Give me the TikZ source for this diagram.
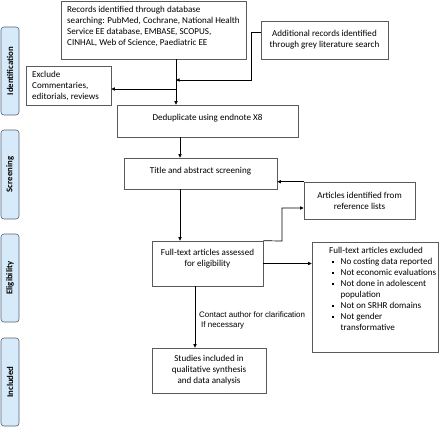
\documentclass[tikz,border=0pt]{standalone}
\usepackage{fontspec}
\setmainfont{Carlito}
\newfontfamily\arialf{Liberation Sans}
\usetikzlibrary{arrows.meta,calc}
\definecolor{sidefill}{RGB}{214,234,250}
\definecolor{sidedraw}{RGB}{85,100,118}
\definecolor{boxdraw}{RGB}{90,90,90}
\begin{document}
\begin{tikzpicture}[x=1bp,y=-1bp,
  box/.style={draw=boxdraw,line width=0.6pt,rectangle,inner sep=0pt,font=\fontsize{9.1}{11}\selectfont},
  side/.style={draw=sidedraw,fill=sidefill,line width=0.6pt,rounded corners=3pt,inner sep=0pt,
     minimum height=18bp,font=\bfseries\fontsize{8.8}{10}\selectfont,rotate=90},
  txt/.style={inner sep=0pt,font=\fontsize{9.1}{11}\selectfont},
  arr/.style={line width=0.7pt,-{Triangle[length=3.6pt,width=3.2pt]}},
  ln/.style={line width=0.7pt}]
\useasboundingbox (0,0) rectangle (440,427);
% side labels
\node[side,minimum width=88bp] (sid) at (10,71) {Identification};
\node[side,minimum width=89bp] (ssc) at (10,174.5) {Screening};
\node[side,minimum width=88bp] (sel) at (10,278) {Eligibility};
\node[side,minimum width=88bp] (sin) at (10,382) {Included};
% boxes
\node[box,minimum width=185bp,minimum height=58bp] (rec) at (153.5,30) {};
\node[txt,align=left,anchor=north west] (rect) at (67,6.5) {Records identified through database\\searching: PubMed, Cochrane, National Health\\Service EE database, EMBASE, SCOPUS,\\CINHAL, Web of Science, Paediatric EE};
\node[box,minimum width=127bp,minimum height=38bp,align=center] (add) at (324.5,40) {Additional records identified\\through grey literature search};
\node[box,minimum width=85bp,minimum height=39bp] (exc) at (68.5,85.5) {};
\node[txt,align=left,anchor=west] (exct) at (32,86) {Exclude\\Commentaries,\\editorials, reviews};
\node[box,minimum width=181bp,minimum height=32bp] (ded) at (207.5,121) {};
\node[txt] (dedt) at (207.5,118.5) {Deduplicate using endnote X8};
\node[box,minimum width=153bp,minimum height=31bp] (tit) at (200.5,173.5) {};
\node[txt] (titt) at (200.5,171) {Title and abstract screening};
\node[box,minimum width=111bp,minimum height=37bp,align=center] (art) at (359.5,200.5) {Articles identified from\\reference lists};
\node[box,minimum width=111bp,minimum height=45bp] (ful) at (207.5,263.5) {};
\node[txt,align=center] (fult) at (207.5,259) {Full-text articles assessed\\for eligibility};
\node[box,minimum width=126bp,minimum height=110bp] (exf) at (375,297) {};
\newcommand{\bul}{\makebox[8.5pt][l]{\rule[1.6pt]{2.1pt}{2.1pt}}}
\newcommand{\cnt}{\hspace{8.5pt}}
\node[txt,align=left,anchor=north west] (exft) at (329,247) {Full-text articles excluded\\
\hspace{3pt}\bul No costing data reported\\
\hspace{3pt}\bul Not economic evaluations\\
\hspace{3pt}\bul Not done in adolescent\\
\hspace{3pt}\cnt population\\
\hspace{3pt}\bul Not on SRHR domains\\
\hspace{3pt}\bul Not gender\\
\hspace{3pt}\cnt transformative};
\node[box,minimum width=114bp,minimum height=45bp,align=center] (stu) at (209,370.5) {Studies included in\\qualitative synthesis\\and data analysis};
\node[inner sep=0pt,anchor=west,align=left,font=\arialf\fontsize{8}{10}\selectfont] (con) at (199,320) {Contact author for clarification\\\hspace{2pt}If necessary};
% coordinates
\coordinate (xa) at (176,0);
\coordinate (xb) at (180,0);
\coordinate (xc) at (195,0);
\coordinate (j1) at (176,89);
\coordinate (j2) at (176,80);
\coordinate (a1) at (251,32);
\coordinate (a2) at (251,80);
\coordinate (f1) at (282,241);
\coordinate (f2) at (282,208);
% connectors
\draw[arr] (rec.south -| xa) -- (ded.north -| xa);
\draw[arr] (j1) -- (exc.east |- j1);
\draw[arr] (add.west |- a1) -- (a1) -- (a2) -- (j2);
\draw[arr] (ded.south -| xb) -- (tit.north -| xb);
\draw[arr] (tit.south -| xb) -- (ful.north -| xb);
\draw[arr] (art.north west) -- (tit.east |- art.north west);
\draw[arr] (ful.north east) -- (f1) -- (f2) -- (art.west |- f2);
\draw[arr] (ful.east) -- (exf.west |- ful.east);
\draw[arr] (ful.south -| xc) -- (stu.north -| xc);
\end{tikzpicture}
\end{document}
